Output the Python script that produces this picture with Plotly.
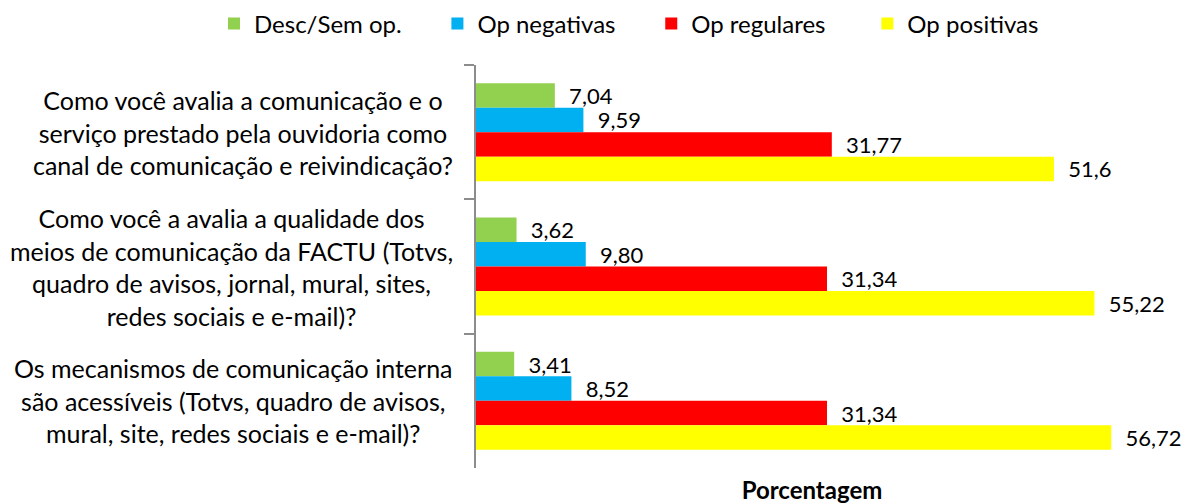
import plotly.graph_objects as go

categories = [
    "Como você avalia a comunicação e o<br>serviço prestado pela ouvidoria como<br>canal de comunicação e reivindicação?",
    "Como você a avalia a qualidade dos<br>meios de comunicação da FACTU (Totvs,<br>quadro de avisos, jornal, mural, sites,<br>redes sociais e e-mail)?",
    "Os mecanismos de comunicação interna<br>são acessíveis (Totvs, quadro de avisos,<br>mural, site, redes sociais e e-mail)?",
]
series_names = ["Desc/Sem op.", "Op negativas", "Op regulares", "Op positivas"]
desc_sem_op = [7.04, 3.62, 3.41]
op_negativas = [9.59, 9.80, 8.52]
op_regulares = [31.77, 31.34, 31.34]
op_positivas = [51.6, 55.22, 56.72]
label_desc = ["7,04", "3,62", "3,41"]
label_neg = ["9,59", "9,80", "8,52"]
label_reg = ["31,77", "31,34", "31,34"]
label_pos = ["51,6", "55,22", "56,72"]
colors = ["#92D050", "#00B0F0", "#FF0000", "#FFFF00"]
legend_pad = [5, 5, 6, 0]  # trailing spacing after each legend entry

FONT = "Lato"
OFF = 8  # browser default body margin
W, H = 1196 - OFF, 504 - OFF
ML, MT = 476 - OFF, 65 - OFF
MR = W - (1148 - OFF)
MB = H - (468 - OFF)
PW, PH = W - ML - MR, H - MT - MB

NB = "\u00a0"
fig = go.Figure()
for name, vals, labs, col, pad in zip(
    series_names,
    [desc_sem_op, op_negativas, op_regulares, op_positivas],
    [label_desc, label_neg, label_reg, label_pos],
    colors, legend_pad,
):
    fig.add_trace(go.Bar(
        y=categories, x=vals, name=name + NB * pad, orientation="h",
        marker=dict(color=col, line=dict(width=0)),
        text=[NB * 2 + t for t in labs], textposition="outside",
        constraintext="none", cliponaxis=False,
        textfont=dict(family=FONT, size=22, color="#000000"),
        hoverinfo="x+name",
    ))

for c in categories:
    fig.add_annotation(
        x=-(476 - 455) / PW, xref="paper", y=c, yref="y", text=c, showarrow=False,
        xanchor="right", yanchor="middle", align="center",
        font=dict(family=FONT, size=25, color="#000000"),
    )

# chart area left border
fig.add_shape(type="line", xref="paper", yref="paper",
              x0=(2.5 - 476) / PW, x1=(2.5 - 476) / PW,
              y0=1 + (MT + OFF) / PH, y1=-(MB + OFF) / PH,
              line=dict(color="#8C8C8C", width=1.5))

fig.update_layout(
    width=W, height=H,
    margin=dict(l=ML, r=MR, t=MT, b=MB, autoexpand=False),
    paper_bgcolor="white", plot_bgcolor="white",
    barmode="group", bargap=0.27, bargroupgap=0,
    font=dict(family=FONT, size=20, color="#000000"),
    legend=dict(orientation="h", x=(214 - 476) / PW, xanchor="left",
                y=1 + (65 - 24) / PH, yanchor="middle",
                font=dict(family=FONT, size=24), traceorder="normal"),
    showlegend=True,
)
fig.update_xaxes(range=[0, 60], showticklabels=False, showgrid=False, zeroline=False,
                 showline=False, ticks="", automargin=False,
                 title=dict(text="<b>Porcentagem</b>", standoff=17,
                            font=dict(family=FONT, size=24, color="#000000")))
fig.update_yaxes(autorange="reversed", showticklabels=False, showgrid=False,
                 showline=True, linecolor="#8C8C8C", linewidth=1.5, automargin=False,
                 ticks="outside", tickson="boundaries", ticklen=10, tickcolor="#8C8C8C",
                 tickwidth=1.5)

fig.write_html("out.html")
